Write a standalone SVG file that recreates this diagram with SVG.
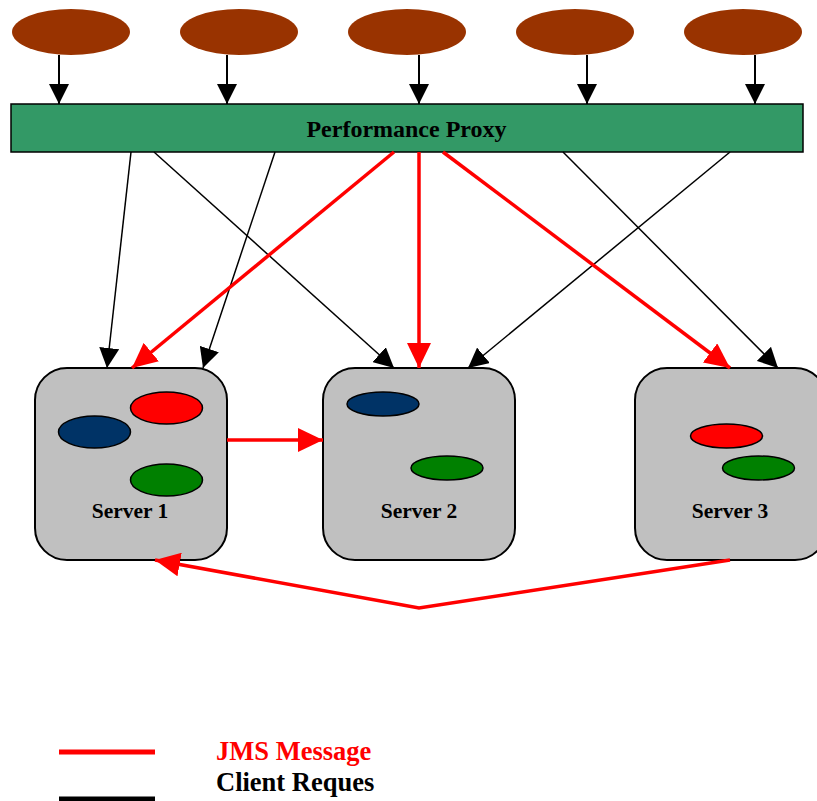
<svg xmlns="http://www.w3.org/2000/svg" width="817" height="801" viewBox="0 0 817 801">
  <style>
    .client { fill: #993300; }
    .proxy { fill: #339966; stroke: #000; stroke-width: 1.5; }
    .server { fill: #c0c0c0; stroke: #000; stroke-width: 2; }
    .comp { stroke: #000; stroke-width: 1.5; }
    .lbl { font-family: "Liberation Serif", "Times New Roman", serif; font-weight: bold; fill: #000; text-anchor: middle; }
    .legend-lbl { font-family: "Liberation Serif", "Times New Roman", serif; font-weight: bold; font-size: 26.5px; text-anchor: start; }
    .req { fill: none; stroke: #000; stroke-width: 1.5; }
    .req-top { fill: none; stroke: #000; stroke-width: 2; }
    .jms { fill: none; stroke: #ff0000; stroke-width: 3.5; }
  </style>
  <defs>
    <marker id="ah-black" viewBox="0 0 20 20" refX="20" refY="10" markerWidth="20" markerHeight="20" markerUnits="userSpaceOnUse" orient="auto">
      <path d="M0,0 L20,10 L0,20 Z" fill="#000"/>
    </marker>
    <marker id="ah-red" viewBox="0 0 25 24" refX="25" refY="12" markerWidth="25" markerHeight="24" markerUnits="userSpaceOnUse" orient="auto">
      <path d="M0,0 L25,12 L0,24 Z" fill="#ff0000"/>
    </marker>
  </defs>

  <!-- clients -->
  <g id="client-1"><ellipse class="client" cx="71" cy="32" rx="59" ry="23"/></g>
  <g id="client-2"><ellipse class="client" cx="239" cy="32" rx="59" ry="23"/></g>
  <g id="client-3"><ellipse class="client" cx="407" cy="32" rx="59" ry="23"/></g>
  <g id="client-4"><ellipse class="client" cx="575" cy="32" rx="59" ry="23"/></g>
  <g id="client-5"><ellipse class="client" cx="743" cy="32" rx="59" ry="23"/></g>

  <!-- proxy -->
  <g id="proxy">
    <rect class="proxy" x="11" y="104" width="792" height="48"/>
    <text class="lbl" x="406.5" y="137" font-size="24">Performance Proxy</text>
  </g>

  <!-- servers -->
  <g id="server-1">
    <rect class="server" x="35" y="368" width="192" height="192" rx="32" ry="32"/>
    <ellipse class="comp" cx="166.5" cy="408" rx="36" ry="16" fill="#ff0000"/>
    <ellipse class="comp" cx="94.5" cy="432" rx="36" ry="16" fill="#003366"/>
    <ellipse class="comp" cx="166.5" cy="480" rx="36" ry="16" fill="#008000"/>
    <text class="lbl" x="130" y="518" font-size="21.5">Server 1</text>
  </g>
  <g id="server-2">
    <rect class="server" x="323" y="368" width="192" height="192" rx="32" ry="32"/>
    <ellipse class="comp" cx="383" cy="404" rx="36" ry="12" fill="#003366"/>
    <ellipse class="comp" cx="447" cy="468" rx="36" ry="12" fill="#008000"/>
    <text class="lbl" x="419" y="518" font-size="21.5">Server 2</text>
  </g>
  <g id="server-3">
    <rect class="server" x="635" y="368" width="192" height="192" rx="32" ry="32"/>
    <ellipse class="comp" cx="726.5" cy="436" rx="36" ry="12" fill="#ff0000"/>
    <ellipse class="comp" cx="758.5" cy="468" rx="36" ry="12" fill="#008000"/>
    <text class="lbl" x="730" y="518" font-size="21.5">Server 3</text>
  </g>

  <!-- connectors -->
  <g id="connectors">
    <!-- client requests into the proxy -->
    <line class="req-top" x1="59" y1="55" x2="59" y2="104" marker-end="url(#ah-black)"/>
    <line class="req-top" x1="227" y1="55" x2="227" y2="104" marker-end="url(#ah-black)"/>
    <line class="req-top" x1="419" y1="55" x2="419" y2="104" marker-end="url(#ah-black)"/>
    <line class="req-top" x1="587" y1="55" x2="587" y2="104" marker-end="url(#ah-black)"/>
    <line class="req-top" x1="755" y1="55" x2="755" y2="104" marker-end="url(#ah-black)"/>

    <!-- client requests forwarded to servers -->
    <line class="req" x1="131" y1="152" x2="107" y2="368" marker-end="url(#ah-black)"/>
    <line class="req" x1="154" y1="152" x2="394" y2="368" marker-end="url(#ah-black)"/>
    <line class="req" x1="275" y1="152" x2="203" y2="368" marker-end="url(#ah-black)"/>
    <line class="req" x1="563" y1="152" x2="778" y2="368" marker-end="url(#ah-black)"/>
    <line class="req" x1="730" y1="152" x2="468" y2="368" marker-end="url(#ah-black)"/>

    <!-- JMS messages -->
    <line class="jms" x1="394" y1="152" x2="132" y2="368" marker-end="url(#ah-red)"/>
    <line class="jms" x1="419" y1="152" x2="419" y2="368" marker-end="url(#ah-red)"/>
    <line class="jms" x1="443" y1="152" x2="730" y2="368" marker-end="url(#ah-red)"/>
    <line class="jms" x1="227" y1="440" x2="323" y2="440" marker-end="url(#ah-red)"/>
    <polyline class="jms" points="730,560 419,608 155,560" marker-end="url(#ah-red)"/>
  </g>

  <!-- legend -->
  <g id="legend">
    <line x1="59" y1="752" x2="155" y2="752" stroke="#ff0000" stroke-width="5"/>
    <line x1="59" y1="799" x2="155" y2="799" stroke="#000" stroke-width="5"/>
    <text class="legend-lbl" x="216" y="760" fill="#ff0000">JMS Message</text>
    <text class="legend-lbl" x="216" y="791" fill="#000">Client Reques</text>
  </g>
</svg>
